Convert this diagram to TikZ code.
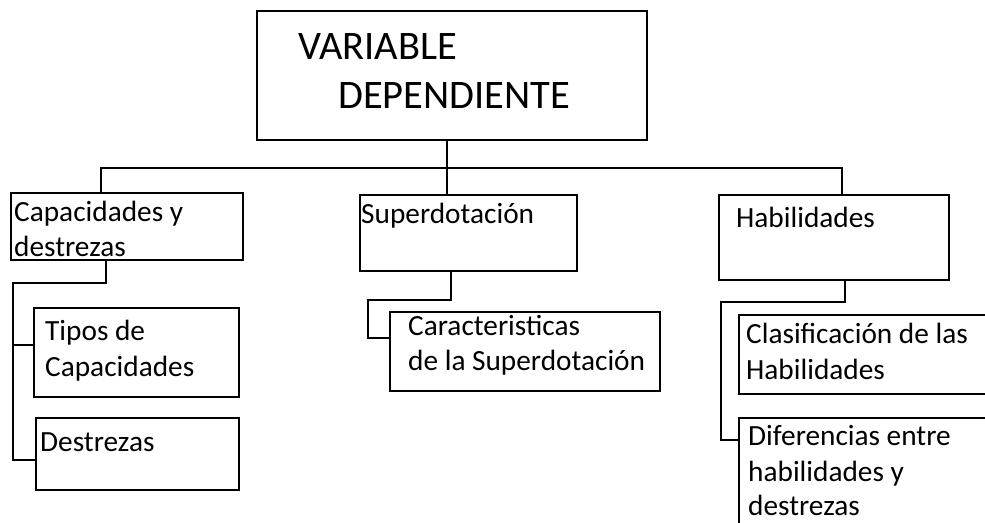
\documentclass[tikz,border=0pt]{standalone}
\usepackage{fontspec}
\setmainfont{Carlito}
\begin{document}
\begin{tikzpicture}[x=1pt,y=-1pt,
  box/.style={draw=black, line width=1.6pt, rectangle, inner sep=0pt, anchor=north west},
  txt/.style={inner sep=0pt, anchor=base west, font=\fontsize{29.3}{35}\selectfont, text=black},
  ttl/.style={inner sep=0pt, anchor=base west, font=\fontsize{40.5}{48}\selectfont, text=black},
  conn/.style={draw=black, line width=1.6pt}]
\useasboundingbox (0,0) rectangle (985,522);
\clip (0,0) rectangle (985,522);
% boxes
\node[box, minimum width=390pt, minimum height=129pt] (main) at (256,10) {};
\node[box, minimum width=232pt, minimum height=67pt] (b1) at (10,192) {};
\node[box, minimum width=205pt, minimum height=89pt] (b1a) at (33,307) {};
\node[box, minimum width=203pt, minimum height=72pt] (b1b) at (35,417) {};
\node[box, minimum width=217pt, minimum height=76pt] (b2) at (359,194) {};
\node[box, minimum width=270pt, minimum height=79pt] (b2a) at (389,311) {};
\node[box, minimum width=230pt, minimum height=85pt] (b3) at (718,194) {};
\node[box, minimum width=280pt, minimum height=79pt] (b3a) at (738,314) {};
\node[box, minimum width=280pt, minimum height=150pt] (b3b) at (738,417) {};
% texts
\node[ttl] (t0a) at (298,59) {VARIABLE};
\node[ttl] (t0b) at (338,108) {DEPENDIENTE};
\node[txt] (t1a) at (14,221) {Capacidades y};
\node[txt] (t1b) at (14,256) {destrezas};
\node[txt] (t2a) at (45,340) {Tipos de};
\node[txt] (t2b) at (45,376) {Capacidades};
\node[txt] (t3a) at (40,451) {Destrezas};
\node[txt] (t4a) at (361,223) {Superdotación};
\node[txt] (t5a) at (408,335) {Caracteristicas};
\node[txt] (t5b) at (408,370) {de la Superdotación};
\node[txt] (t6a) at (736,227) {Habilidades};
\node[txt] (t7a) at (746,343) {Clasificación de las};
\node[txt] (t7b) at (746,379) {Habilidades};
\node[txt] (t8a) at (748,445) {Diferencias entre};
\node[txt] (t8b) at (748,481) {habilidades y};
\node[txt] (t8c) at (748,515) {destrezas};
% junction coordinates
\coordinate (busL) at (101,168);
\coordinate (busR) at (842,168);
\coordinate (trunk) at (447,168);
\coordinate (k1) at (106,283);
\coordinate (r1) at (13,283);
\coordinate (r1a) at (13,345);
\coordinate (r1b) at (13,460);
\coordinate (k2) at (451,300);
\coordinate (r2) at (368,300);
\coordinate (r2a) at (368,338);
\coordinate (k3) at (845,302);
\coordinate (r3) at (721,302);
\coordinate (r3b) at (721,440);
% connectors
\draw[conn] (trunk |- main.south) -- (trunk |- b2.north);
\draw[conn] (busL |- b1.north) -- (busL) -- (busR) -- (busR |- b3.north);
\draw[conn] (k1 |- b1.south) -- (k1) -- (r1) -- (r1b) -- (r1b -| b1b.west);
\draw[conn] (r1a) -- (r1a -| b1a.west);
\draw[conn] (k2 |- b2.south) -- (k2) -- (r2) -- (r2a) -- (r2a -| b2a.west);
\draw[conn] (k3 |- b3.south) -- (k3) -- (r3) -- (r3b) -- (r3b -| b3b.west);
\end{tikzpicture}
\end{document}
